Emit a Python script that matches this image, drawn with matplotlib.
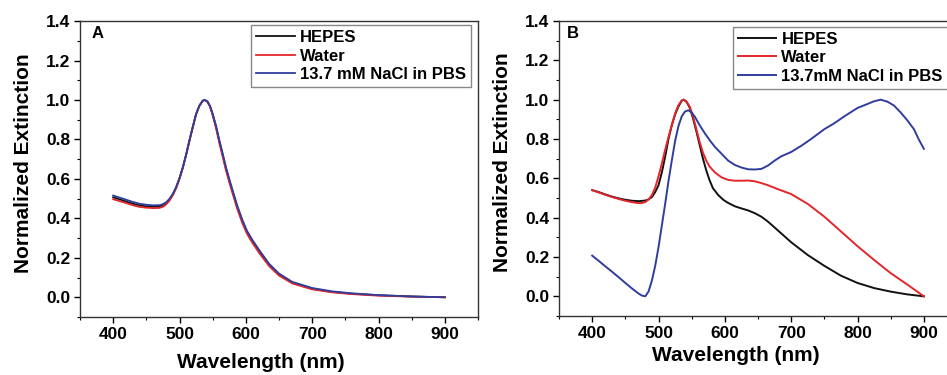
import numpy as np
import matplotlib
matplotlib.use('Agg')
import matplotlib.pyplot as plt
from matplotlib.ticker import MultipleLocator

plt.rcParams['font.family'] = ['Liberation Sans', 'DejaVu Sans']
plt.rcParams['font.weight'] = 'bold'

# panel A: all three buffers nearly on top of each other
wl_a = [400, 410, 420, 430, 440, 450, 460, 470, 475, 480, 485, 490, 495, 500, 505, 510,
        515, 520, 525, 530, 535, 538, 542, 546, 550, 555, 560, 565, 570, 575, 580, 587,
        595, 602, 610, 620, 635, 650, 670, 700, 730, 760, 800, 850, 900]
nacl_a = [0.516, 0.505, 0.494, 0.483, 0.474, 0.469, 0.466, 0.467, 0.472, 0.482, 0.500,
          0.525, 0.560, 0.605, 0.660, 0.725, 0.797, 0.865, 0.930, 0.972, 0.997, 1.0,
          0.993, 0.970, 0.930, 0.870, 0.797, 0.730, 0.660, 0.600, 0.543, 0.465, 0.390,
          0.335, 0.290, 0.240, 0.170, 0.120, 0.078, 0.047, 0.030, 0.020, 0.011, 0.004, 0.0]
hepes_a = [0.507, 0.496, 0.485, 0.474, 0.466, 0.461, 0.459, 0.460, 0.465, 0.476, 0.495,
           0.521, 0.557, 0.603, 0.658, 0.723, 0.795, 0.863, 0.929, 0.971, 0.997, 1.0,
           0.992, 0.968, 0.926, 0.864, 0.790, 0.722, 0.652, 0.592, 0.535, 0.457, 0.382,
           0.328, 0.283, 0.233, 0.164, 0.115, 0.074, 0.043, 0.027, 0.018, 0.010, 0.004, 0.0]
water_a = [0.497, 0.487, 0.477, 0.466, 0.458, 0.454, 0.452, 0.453, 0.459, 0.471, 0.491,
           0.518, 0.554, 0.600, 0.656, 0.721, 0.793, 0.862, 0.928, 0.970, 0.996, 1.0,
           0.991, 0.966, 0.922, 0.858, 0.782, 0.713, 0.643, 0.583, 0.526, 0.448, 0.373,
           0.320, 0.275, 0.225, 0.158, 0.110, 0.070, 0.040, 0.025, 0.016, 0.008, 0.003, 0.0]

# panel B
wl_hepes_b = [400, 410, 420, 430, 440, 450, 460, 470, 480, 485, 490, 495, 500, 505, 510,
              515, 520, 525, 530, 535, 538, 542, 547, 552, 557, 562, 567, 572, 577, 582,
              590, 598, 605, 615, 625, 635, 645, 655, 665, 680, 700, 725, 750, 775, 800,
              825, 850, 875, 900]
hepes_b = [0.540, 0.530, 0.518, 0.507, 0.498, 0.491, 0.486, 0.484, 0.487, 0.493, 0.505,
           0.530, 0.565, 0.630, 0.710, 0.800, 0.870, 0.925, 0.965, 0.995, 1.0, 0.990,
           0.960, 0.905, 0.840, 0.770, 0.700, 0.640, 0.590, 0.550, 0.515, 0.490, 0.475,
           0.458, 0.447, 0.437, 0.423, 0.405, 0.380, 0.335, 0.275, 0.210, 0.155, 0.105,
           0.068, 0.042, 0.024, 0.010, 0.0]

wl_water_b = [400, 410, 420, 430, 440, 450, 460, 470, 475, 480, 485, 490, 495, 500, 505,
              510, 515, 520, 525, 530, 535, 538, 542, 547, 552, 557, 562, 567, 572, 577,
              585, 595, 605, 615, 625, 635, 645, 655, 665, 680, 700, 725, 750, 775, 800,
              825, 850, 875, 900]
water_b = [0.540, 0.528, 0.516, 0.505, 0.495, 0.486, 0.479, 0.474, 0.475, 0.479, 0.493,
           0.515, 0.553, 0.610, 0.675, 0.745, 0.810, 0.870, 0.930, 0.972, 0.996, 1.0,
           0.990, 0.965, 0.915, 0.850, 0.785, 0.730, 0.690, 0.660, 0.630, 0.605, 0.592,
           0.588, 0.588, 0.589, 0.585, 0.576, 0.565, 0.545, 0.520, 0.470, 0.405, 0.330,
           0.255, 0.185, 0.118, 0.060, 0.0]

wl_nacl_b = [400, 410, 420, 430, 440, 450, 460, 470, 475, 480, 485, 490, 495, 500, 505,
             510, 515, 520, 525, 530, 535, 540, 545, 550, 555, 562, 570, 578, 585, 595,
             605, 615, 625, 635, 645, 655, 665, 675, 685, 700, 715, 730, 750, 765, 780,
             800, 815, 825, 835, 845, 855, 865, 875, 885, 892, 900]
nacl_b = [0.207, 0.180, 0.152, 0.125, 0.097, 0.068, 0.040, 0.014, 0.004, 0.0, 0.025,
          0.080, 0.155, 0.250, 0.360, 0.470, 0.585, 0.690, 0.790, 0.865, 0.915, 0.940,
          0.946, 0.935, 0.912, 0.870, 0.828, 0.790, 0.760, 0.725, 0.690, 0.668, 0.655,
          0.646, 0.645, 0.648, 0.665, 0.690, 0.712, 0.734, 0.765, 0.800, 0.850, 0.880,
          0.915, 0.958, 0.978, 0.992, 1.0, 0.990, 0.970, 0.935, 0.895, 0.850, 0.800, 0.750]

BLACK = '#111111'
RED = '#e3262b'
BLUE = '#2f3e9c'

fig = plt.figure(figsize=(9.47, 3.75), dpi=100)
ax1 = fig.add_axes([0.0845, 0.1547, 0.4203, 0.789])
ax2 = fig.add_axes([0.5903, 0.1573, 0.4203, 0.7867])


def style(ax, letter, lx, xlab_x, xpad):
    ax.set_xlim(350, 950)
    ax.set_ylim(-0.1, 1.4)
    ax.xaxis.set_major_locator(MultipleLocator(100))
    ax.xaxis.set_minor_locator(MultipleLocator(50))
    ax.yaxis.set_major_locator(MultipleLocator(0.2))
    ax.yaxis.set_minor_locator(MultipleLocator(0.1))
    ax.set_xticks([400, 500, 600, 700, 800, 900])
    ax.yaxis.set_major_formatter(matplotlib.ticker.FormatStrFormatter('%.1f'))
    ax.tick_params(which='major', direction='out', length=4, width=1, labelsize=12.5, pad=3)
    ax.tick_params(which='minor', direction='out', length=2.5, width=0.8)
    ax.tick_params(top=False, right=False)
    for s in ax.spines.values():
        s.set_linewidth(1.0)
        s.set_color('#333333')
    ax.set_xlabel('Wavelength (nm)', fontsize=15, fontweight='bold', labelpad=xpad)
    ax.set_ylabel('Normalized Extinction', fontsize=15, fontweight='bold', labelpad=9)
    ax.xaxis.label.set_position((xlab_x, 0))
    ax.yaxis.label.set_position((0, 0.52))
    ax.text(lx, 0.957, letter, transform=ax.transAxes, fontsize=12, fontweight='bold',
            va='center', ha='left')


ax1.plot(wl_a, hepes_a, color=BLACK, lw=1.3, label='HEPES')
ax1.plot(wl_a, water_a, color=RED, lw=1.3, label='Water')
ax1.plot(wl_a, nacl_a, color=BLUE, lw=1.3, label='13.7 mM NaCl in PBS')
style(ax1, 'A', 0.03, 0.455, 8)

ax2.plot(wl_hepes_b, hepes_b, color=BLACK, lw=1.4, label='HEPES')
ax2.plot(wl_water_b, water_b, color=RED, lw=1.4, label='Water')
ax2.plot(wl_nacl_b, nacl_b, color=BLUE, lw=1.4, label='13.7mM NaCl in PBS')
style(ax2, 'B', 0.02, 0.444, 4)

for ax, x0, y0 in [(ax1, 0.43, 0.986), (ax2, 0.4375, 0.98)]:
    leg = ax.legend(loc='upper left', bbox_to_anchor=(x0, y0), fontsize=12,
                    frameon=True, fancybox=False, edgecolor='#888888', framealpha=1,
                    handlelength=2.3, handletextpad=0.3, labelspacing=0.2,
                    borderpad=0.3, borderaxespad=0)
    leg.get_frame().set_linewidth(1.0)
    for t in leg.get_texts():
        t.set_fontweight('bold')

fig.savefig('out.png', dpi=100)
